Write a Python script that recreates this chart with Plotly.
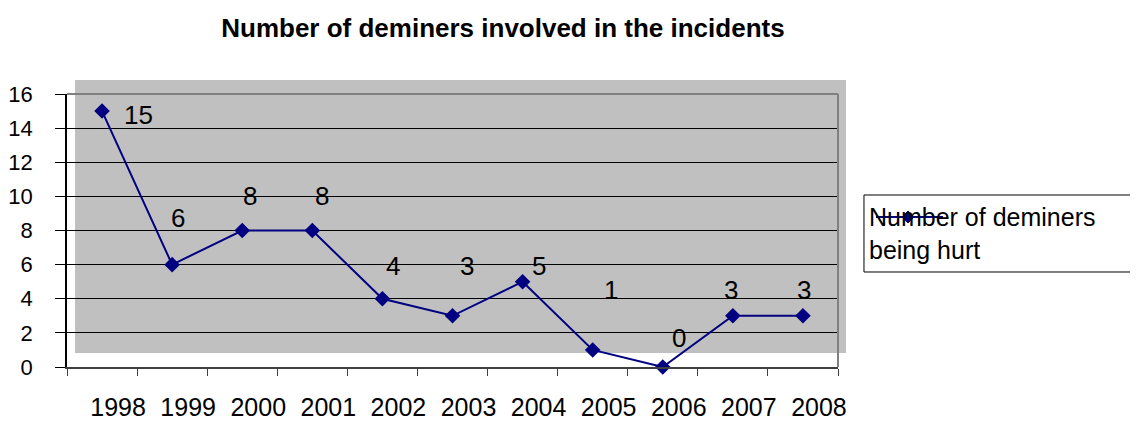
import plotly.graph_objects as go

years = ["1998", "1999", "2000", "2001", "2002", "2003", "2004", "2005", "2006", "2007", "2008"]
hurt = [15, 6, 8, 8, 4, 3, 5, 1, 0, 3, 3]
series_name = "Number of deminers<br>being hurt"
title_text = "<b>Number of deminers involved in the incidents</b>"

# label offsets in pixels (style only)
label_dx = [36, 6, 8, 10, 11, 14, 16, 18, 16, -2, 1]
label_dy = [-4, 47, 35, 35, 33, 50, 16, 60, 29, 26, 26]

FONT = "Liberation Sans, Arial, sans-serif"
NAVY = "#000080"

xs = list(range(len(years)))

fig = go.Figure()
fig.add_trace(go.Scatter(
    x=xs, y=hurt, mode="lines+markers", name=series_name,
    line=dict(color=NAVY, width=2),
    marker=dict(symbol="diamond", size=12, color=NAVY),
    showlegend=False, cliponaxis=False,
))

annotations = []
for xi, v, dx, dy in zip(xs, hurt, label_dx, label_dy):
    annotations.append(dict(
        x=xi, y=v, xref="x", yref="y", text=str(v), showarrow=False,
        xshift=dx, yshift=dy, font=dict(family=FONT, size=26, color="black"),
    ))

# legend (manual, Excel-like overlap of symbol and text)
annotations.append(dict(
    x=1.0376, y=0.489, xref="paper", yref="paper", xanchor="left", yanchor="middle",
    text=series_name, align="left", showarrow=False,
    font=dict(family=FONT, size=25, color="black"),
))

shapes = [
    # grey chart background (offset from plot area as in the original)
    dict(type="rect", xref="paper", yref="paper", x0=0.0104, x1=1.0104, y0=0.0513, y1=1.0513,
         fillcolor="#C0C0C0", line=dict(width=0), layer="below"),
    # top and right borders of the plot area
    dict(type="line", xref="paper", yref="paper", x0=0, x1=1, y0=1, y1=1,
         line=dict(color="#808080", width=2), layer="above"),
    dict(type="line", xref="paper", yref="paper", x0=1, x1=1, y0=0, y1=1,
         line=dict(color="#808080", width=2), layer="above"),
    # legend box
    dict(type="rect", xref="paper", yref="paper", x0=1.0337, x1=1.40, y0=0.348, y1=0.630,
         line=dict(color="black", width=1), fillcolor="rgba(0,0,0,0)", layer="above"),
    # legend symbol line
    dict(type="line", xref="paper", yref="paper", x0=1.0493, x1=1.1362, y0=0.5495, y1=0.5495,
         line=dict(color=NAVY, width=2), layer="above"),
    # legend symbol diamond
    dict(type="path", xref="paper", yref="paper", xsizemode="pixel", ysizemode="pixel",
         xanchor=1.0908, yanchor=0.5495, path="M -6 0 L 0 6 L 6 0 L 0 -6 Z",
         fillcolor=NAVY, line=dict(color=NAVY, width=1), layer="above"),
]

fig.update_layout(
    width=1130, height=415,
    margin=dict(l=59, r=300, t=86, b=56, autoexpand=False),
    paper_bgcolor="white", plot_bgcolor="rgba(0,0,0,0)",
    title=dict(text=title_text, x=0.438, xanchor="center", y=0.952, yanchor="middle",
               xref="container", yref="container",
               font=dict(family=FONT, size=26, color="black")),
    font=dict(family=FONT, color="black"),
    annotations=annotations, shapes=shapes,
    xaxis=dict(
        range=[-0.5, len(years) - 0.5], tickmode="array", tickvals=xs, ticktext=years,
        ticks="", showgrid=False, zeroline=False, automargin=False,
        showline=True, linecolor="#404040", linewidth=2,
        ticklabelshift=16, ticklabelstandoff=17,
        tickfont=dict(family=FONT, size=25, color="black"),
        minor=dict(tickmode="array", tickvals=[i - 0.5 for i in range(len(years) + 1)],
                   ticks="outside", ticklen=7, tickcolor="#404040", tickwidth=1, showgrid=False),
    ),
    yaxis=dict(
        range=[0, 16], dtick=2, tick0=0, ticks="outside", ticklen=10, tickcolor="black",
        showgrid=True, gridcolor="black", gridwidth=1, zeroline=False, automargin=False,
        showline=True, linecolor="black", linewidth=1.5,
        ticklabelstandoff=18,
        tickfont=dict(family=FONT, size=22, color="black"),
    ),
)

fig.write_html("out.html")
